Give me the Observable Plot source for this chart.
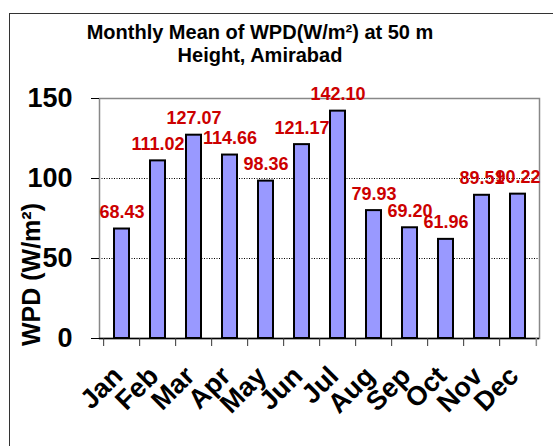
<!DOCTYPE html>
<html><head><meta charset="utf-8">
<script src="https://cdn.jsdelivr.net/npm/d3@7"></script>
<script src="https://cdn.jsdelivr.net/npm/@observablehq/plot@0.6"></script>
<style>
body{margin:0;background:#fff;}
#wrap{position:relative;width:553px;height:446px;overflow:hidden;font-family:Arial,"Liberation Sans",sans-serif;}
#frame{position:absolute;left:9px;top:13px;width:600px;height:500px;border:1px solid #333;box-sizing:border-box;}
#title{position:absolute;left:60px;width:400px;top:21px;text-align:center;font-weight:bold;font-size:20px;line-height:23px;color:#000;}
#chart{position:absolute;left:0;top:0;}
</style></head><body>
<div id="wrap"><div id="frame"></div><div id="title">Monthly Mean of WPD(W/m²) at 50 m<br>Height, Amirabad</div><div id="chart"></div></div>
<script>
const months = ["Jan","Feb","Mar","Apr","May","Jun","Jul","Aug","Sep","Oct","Nov","Dec"];
const wpd = [68.43,111.02,127.07,114.66,98.36,121.17,142.10,79.93,69.20,61.96,89.51,90.22];
const yTicks = [0,50,100,150];
const gridValues = [50,100];
const yLabel = "WPD (W/m²)";

const data = months.map((m,i)=>({month:m, wpd:wpd[i]}));
const W = 553, H = 446, mL = 99, mR = 14, mT = 98, mB = 108;
const step = (W - mL - mR) / months.length;

const plot = Plot.plot({
  width: W, height: H, marginLeft: mL, marginRight: mR, marginTop: mT, marginBottom: mB,
  style: {fontFamily: "Arial, 'Liberation Sans', sans-serif", background: "transparent", color: "#000", overflow: "visible"},
  x: {domain: months, paddingInner: 0.59, paddingOuter: 0.295, label: null, axis: null},
  y: {domain: [0,150], label: null, axis: null},
  marks: [
    Plot.ruleY(gridValues, {stroke: "#000", strokeDasharray: "1,1.5", strokeWidth: 1}),
    Plot.frame({stroke: "#888", strokeWidth: 1.5}),
    Plot.barY(data, {x: "month", y: "wpd", fill: "#9999ff", stroke: "#000", strokeWidth: 2}),
    Plot.ruleY([0], {stroke: "#000", strokeWidth: 1.5}),
    Plot.ruleX(months, {x: d => d, dx: -step/2, y1: 0, y2: 0, insetBottom: -8, stroke: "#333"}),
    Plot.ruleX([months[months.length-1]], {x: d => d, dx: step/2, y1: 0, y2: 0, insetBottom: -8, stroke: "#888", strokeWidth: 1.5}),
    Plot.axisY({ticks: yTicks, tickSize: 8, tickPadding: 19, fontSize: 27, fontWeight: "bold", tickFormat: d => d, label: null, stroke: "#000"}),
    Plot.axisX({tickSize: 0, tickRotate: -45, tickPadding: 33, dx: -4, fontSize: 27, fontWeight: "bold", label: null}),
    Plot.text(data, {x: "month", y: "wpd", text: d => d.wpd.toFixed(2), dy: -11, lineAnchor: "bottom", fill: "#cc0000", fontSize: 18, fontWeight: "bold"}),
    Plot.text([yLabel], {frameAnchor: "left", dx: -68, dy: 56, rotate: -90, textAnchor: "middle", lineAnchor: "middle", fontSize: 25, fontWeight: "bold", fill: "#000"})
  ]
});
document.getElementById("chart").appendChild(plot);
</script>
</body></html>
